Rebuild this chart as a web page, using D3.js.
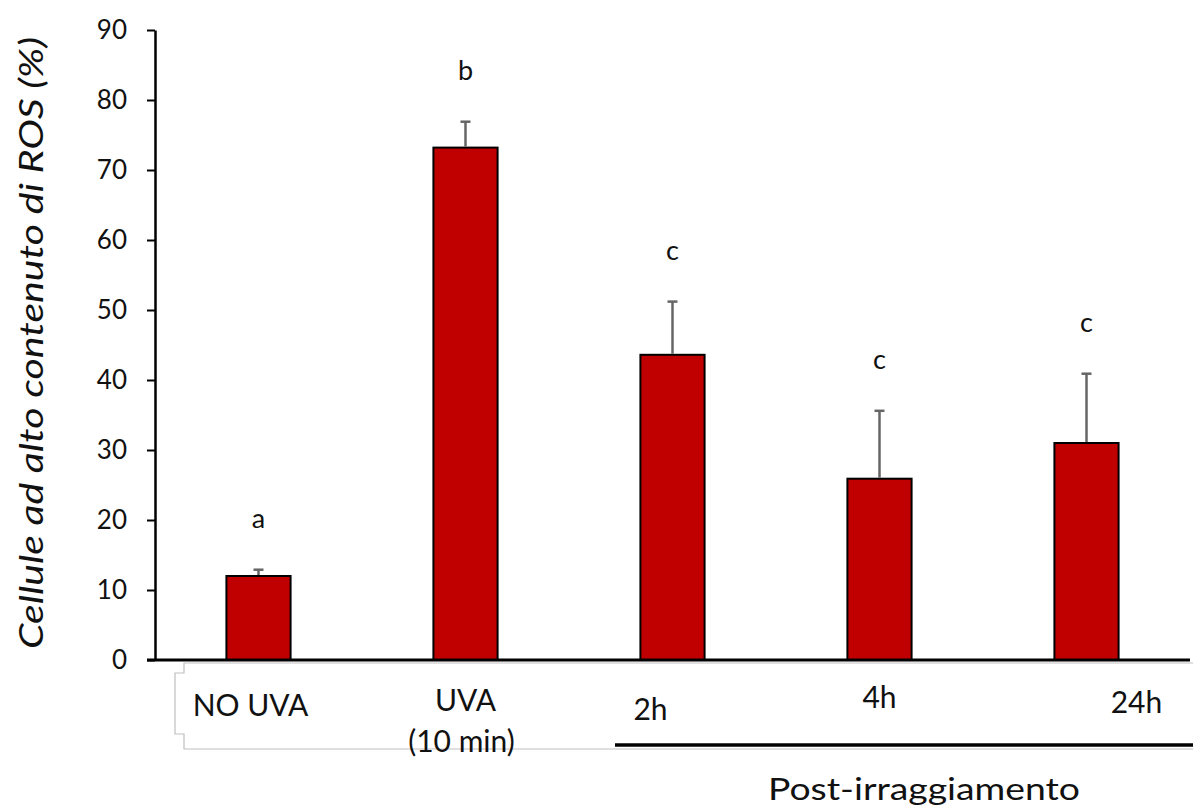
<!DOCTYPE html>
<html>
<head>
<meta charset="utf-8">
<script src="https://cdn.jsdelivr.net/npm/d3@7"></script>
<style>
  body { margin: 0; background: #fff; }
  svg { display: block; font-family: Lato, "Open Sans", sans-serif; }
</style>
</head>
<body>
<div id="chart"></div>
<script>
// data
const categories = ['NO UVA', 'UVA', '2h', '4h', '24h'];
const values = [12.0, 73.2, 43.6, 25.9, 31.0];
const errors = [0.9, 3.7, 7.6, 9.7, 9.9];
const letters = ['a', 'b', 'c', 'c', 'c'];
const yTicks = [0, 10, 20, 30, 40, 50, 60, 70, 80, 90];
const yTitle = 'Cellule ad alto contenuto di ROS (%)';
const groupTitle = 'Post-irraggiamento';

const width = 1193;
const height = 810;
const margin = { top: 30, right: 3, bottom: 150, left: 155 };

const svg = d3.select('#chart')
  .append('svg')
  .attr('width', width)
  .attr('height', height)
  .attr('viewBox', `0 0 ${width} ${height}`);

const x = d3.scaleBand()
  .domain(categories)
  .range([margin.left, width - margin.right])
  .paddingInner(0.69)
  .paddingOuter(0.345);

const y = d3.scaleLinear()
  .domain([0, 90])
  .range([height - margin.bottom, margin.top]);

const rows = categories.map((c, i) => ({ cat: c, value: values[i], err: errors[i], letter: letters[i] }));

// label text box behind the category names (grey outline with a notch)
const boxTop = y(0) + 3, boxBottom = 749, boxLeft = 184, notch = 175;
svg.append('path')
  .attr('fill', '#fff')
  .attr('stroke', '#bfbfbf')
  .attr('stroke-width', 1.2)
  .attr('d', `M${width + 5},${boxTop} H${boxLeft} V${boxTop + 10} H${notch} V${boxTop + 71} H${boxLeft} V${boxBottom} H${width + 5}`);

// y axis
const yAxis = svg.append('g')
  .attr('class', 'axis axis--y')
  .attr('transform', `translate(${margin.left},0)`)
  .call(d3.axisLeft(y).tickValues(yTicks).tickSize(8).tickSizeOuter(0).tickPadding(20));

yAxis.select('.domain').attr('stroke', '#000').attr('stroke-width', 2.5);
yAxis.selectAll('.tick line').attr('stroke', '#000').attr('stroke-width', 2);
yAxis.selectAll('.tick text')
  .attr('fill', '#111')
  .style('font-size', '26px')
  .style('font-family', 'Lato, sans-serif');

// bars
svg.selectAll('.bar')
  .data(rows)
  .join('rect')
  .attr('class', 'bar')
  .attr('x', d => x(d.cat))
  .attr('y', d => y(d.value))
  .attr('width', x.bandwidth())
  .attr('height', d => y(0) - y(d.value))
  .attr('fill', '#c00000')
  .attr('stroke', '#000')
  .attr('stroke-width', 2);

// error bars (upper half only)
const cx = d => x(d.cat) + x.bandwidth() / 2;
svg.selectAll('.err')
  .data(rows)
  .join('line')
  .attr('class', 'err')
  .attr('x1', cx).attr('x2', cx)
  .attr('y1', d => y(d.value) - 1)
  .attr('y2', d => y(d.value + d.err))
  .attr('stroke', '#666')
  .attr('stroke-width', 2.5);

svg.selectAll('.cap')
  .data(rows)
  .join('line')
  .attr('class', 'cap')
  .attr('x1', d => cx(d) - 5).attr('x2', d => cx(d) + 5)
  .attr('y1', d => y(d.value + d.err))
  .attr('y2', d => y(d.value + d.err))
  .attr('stroke', '#666')
  .attr('stroke-width', 2.5);

// significance letters
svg.selectAll('.letter')
  .data(rows)
  .join('text')
  .attr('class', 'letter')
  .attr('x', cx)
  .attr('y', d => y(d.value + d.err) - 42)
  .attr('text-anchor', 'middle')
  .attr('fill', '#111')
  .style('font-size', '27px')
  .text(d => d.letter);

// x axis line
svg.append('line')
  .attr('x1', margin.left - 8)
  .attr('x2', width - margin.right)
  .attr('y1', y(0))
  .attr('y2', y(0))
  .attr('stroke', '#000')
  .attr('stroke-width', 3);

// category labels, nudged like the hand-placed text box in the original
const labelShift = {
  'NO UVA': { dx: -8, y: 716 },
  'UVA': { dx: 0, y: 711 },
  '2h': { dx: -22, y: 720 },
  '4h': { dx: 0, y: 708 },
  '24h': { dx: 50, y: 713 }
};
svg.selectAll('.cat')
  .data(rows)
  .join('text')
  .attr('class', 'cat')
  .attr('x', d => cx(d) + labelShift[d.cat].dx)
  .attr('y', d => labelShift[d.cat].y)
  .attr('text-anchor', 'middle')
  .attr('fill', '#111')
  .style('font-size', '30px')
  .text(d => d.cat);

svg.append('text')
  .attr('x', cx(rows[1]) - 4)
  .attr('y', 752)
  .attr('text-anchor', 'middle')
  .attr('fill', '#111')
  .style('font-size', '30px')
  .text('(10 min)');

// group bracket under post-irradiation times
svg.append('line')
  .attr('x1', 615)
  .attr('x2', width)
  .attr('y1', 745)
  .attr('y2', 745)
  .attr('stroke', '#000')
  .attr('stroke-width', 3.5);

svg.append('text')
  .attr('x', 924)
  .attr('y', 800)
  .attr('text-anchor', 'middle')
  .attr('fill', '#111')
  .attr('textLength', 312)
  .attr('lengthAdjust', 'spacingAndGlyphs')
  .style('font-size', '31px')
  .text(groupTitle);

// y title
svg.append('text')
  .attr('transform', `translate(43,${(y(0) + y(90)) / 2 - 2}) rotate(-90)`)
  .attr('text-anchor', 'middle')
  .attr('fill', '#111')
  .attr('textLength', 612)
  .attr('lengthAdjust', 'spacingAndGlyphs')
  .style('font-size', '32px')
  .style('font-style', 'italic')
  .text(yTitle);
</script>
</body>
</html>
